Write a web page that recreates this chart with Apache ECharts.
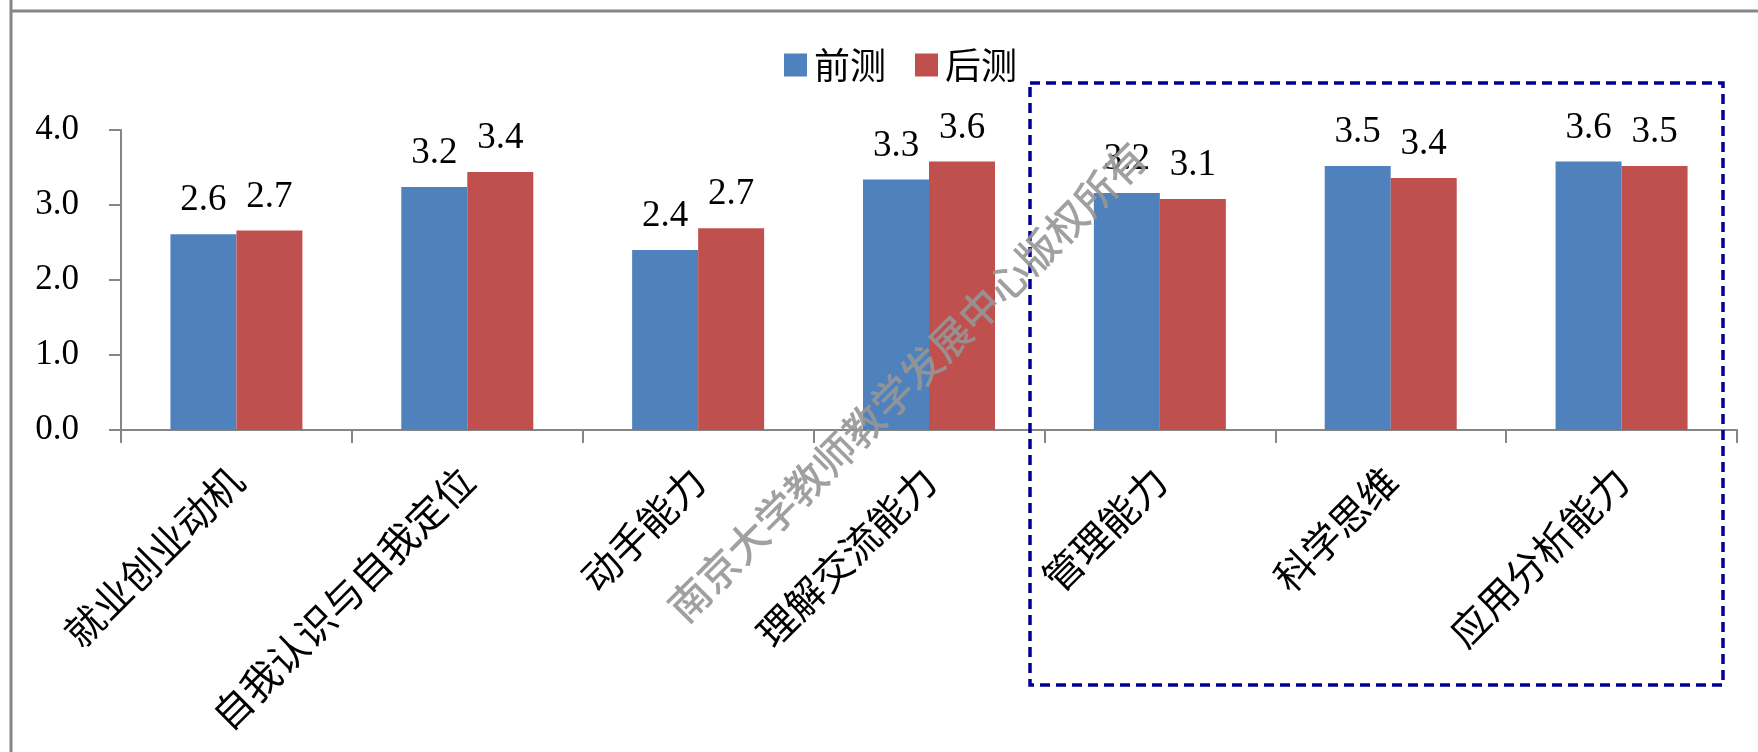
<!DOCTYPE html>
<html>
<head>
<meta charset="utf-8">
<script src="https://cdn.jsdelivr.net/npm/echarts@6/dist/echarts.min.js"></script>
<style>
html,body{margin:0;padding:0;background:#fff;}
#chart{width:1758px;height:752px;}
</style>
</head>
<body>
<div id="chart"></div>
<script>
const categories = ['就业创业动机','自我认识与自我定位','动手能力','理解交流能力','管理能力','科学思维','应用分析能力'];
const preTest = [2.61, 3.24, 2.40, 3.34, 3.16, 3.52, 3.58];
const postTest = [2.66, 3.44, 2.69, 3.58, 3.08, 3.36, 3.52];
const seriesNames = ['前测','后测'];
const yTicks = [0, 1, 2, 3, 4];
const watermarkText = '南京大学教师教学发展中心版权所有';

const chart = echarts.init(document.getElementById('chart'));
const serifFont = '"Liberation Serif", "Times New Roman", serif';
const cjkFont = '"Noto Sans CJK SC", "Noto Sans", sans-serif';
const labelStyle = {
  show: true,
  position: 'top',
  distance: 15,
  fontFamily: serifFont,
  fontSize: 37,
  color: '#000',
  formatter: p => p.value.toFixed(1)
};
chart.setOption({
  animation: false,
  backgroundColor: '#fff',
  legend: {
    data: seriesNames,
    left: 779,
    top: 42,
    itemWidth: 23,
    itemHeight: 23,
    itemGap: 29,
    icon: 'rect',
    textStyle: { fontFamily: cjkFont, fontSize: 36, color: '#000', padding: [0,0,0,2] }
  },
  grid: { left: 121, right: 21, top: 130, bottom: 322, containLabel: false },
  xAxis: {
    type: 'category',
    data: categories,
    axisLine: { lineStyle: { color: '#868686', width: 2 } },
    axisTick: { show: true, length: 13, lineStyle: { color: '#868686', width: 2 } },
    axisLabel: {
      rotate: 45,
      margin: 44,
      interval: 0,
      fontFamily: cjkFont,
      fontSize: 39,
      color: '#000'
    }
  },
  yAxis: {
    type: 'value',
    min: yTicks[0],
    max: yTicks[yTicks.length - 1],
    interval: 1,
    splitLine: { show: false },
    axisLine: { show: true, lineStyle: { color: '#868686', width: 2 } },
    axisTick: { show: true, length: 12, lineStyle: { color: '#868686', width: 2 } },
    axisLabel: {
      margin: 42,
      fontFamily: serifFont,
      fontSize: 35,
      color: '#000',
      formatter: v => v.toFixed(1)
    }
  },
  series: [
    { name: seriesNames[0], type: 'bar', data: preTest, barWidth: 66, barGap: '0%',
      itemStyle: { color: '#4F81BD' }, label: labelStyle },
    { name: seriesNames[1], type: 'bar', data: postTest, barWidth: 66, barGap: '0%',
      itemStyle: { color: '#C0504D' }, label: labelStyle }
  ],
  graphic: [
    { type: 'line', shape: { x1: 11, y1: 0, x2: 11, y2: 752 }, style: { stroke: '#868686', lineWidth: 3 }, z: 1 },
    { type: 'line', shape: { x1: 11, y1: 11, x2: 1758, y2: 11 }, style: { stroke: '#868686', lineWidth: 3 }, z: 1 },
    { type: 'rect', shape: { x: 1030, y: 83, width: 693, height: 602 },
      style: { fill: null, stroke: '#000099', lineWidth: 3.5, lineDash: [10, 6] }, z: 100 },
    { type: 'text', x: 907, y: 382, rotation: Math.PI / 4, z: 200,
      style: { text: watermarkText, font: '500 41px "Noto Sans CJK SC", sans-serif',
        fill: 'rgba(150,150,150,0.9)', align: 'center', verticalAlign: 'middle' } }
  ]
});
</script>
</body>
</html>
